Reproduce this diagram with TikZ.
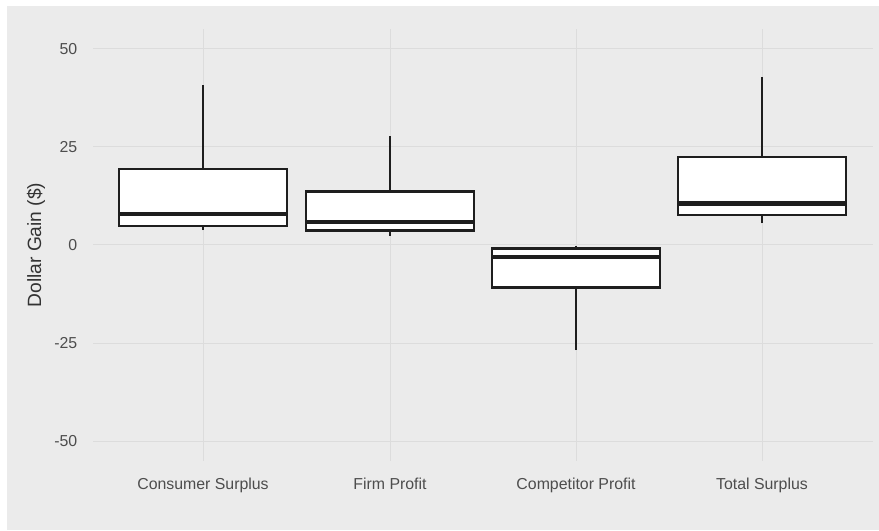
\documentclass[tikz,border=0pt]{standalone}
\usepackage{fontspec}
\setmainfont{Liberation Sans}
\usepackage{tikz}
\usetikzlibrary{positioning,calc}
\definecolor{panel}{RGB}{235, 235, 235}
\definecolor{gridc}{RGB}{220, 220, 220}
\definecolor{axtext}{RGB}{77, 77, 77}
\definecolor{boxline}{RGB}{30, 30, 30}
\tikzset{
  gridline/.style={draw=gridc, line width=0.75pt},
  boxbody/.style={draw=boxline, fill=white, line width=1.9pt},
  whisker/.style={draw=boxline, line width=1.8pt},
  medline/.style={draw=boxline, line width=3.5pt},
  ticklab/.style={anchor=east, text=axtext, font=\fontsize{11.9}{14}\selectfont},
  catlab/.style={anchor=base, text=axtext, font=\fontsize{11.9}{14}\selectfont}
}

\begin{document}
\begin{tikzpicture}[x=0.75pt,y=-0.75pt]
      \useasboundingbox (0,0) rectangle (879,531);
      \fill[panel] (7,6) rectangle (879,530);

      \begin{scope}[yshift=-183.75pt, y=2.94pt]
      % grid
      \draw[gridline] (93,50) -- (873,50);
      \draw[gridline] (93,25) -- (873,25);
      \draw[gridline] (93,0) -- (873,0);
      \draw[gridline] (93,-25) -- (873,-25);
      \draw[gridline] (93,-50) -- (873,-50);
      \draw[gridline] (203,55) -- (203,-55);
      \draw[gridline] (390,55) -- (390,-55);
      \draw[gridline] (576,55) -- (576,-55);
      \draw[gridline] (762,55) -- (762,-55);

      \node[ticklab] (t50) at (82,50) {50};
      \node[ticklab] (t25) at (82,25) {25};
      \node[ticklab] (t0) at (82,0) {0};
      \node[ticklab] (tm25) at (82,-25) {-25};
      \node[ticklab] (tm50) at (82,-50) {-50};

      \node[rotate=90, text=black!80, font=\fontsize{14.4}{17}\selectfont] (ylab) at (36,0) {Dollar Gain (\$)};

      % consumer surplus
      \draw[whisker] (203,3.8) -- (203,40.8);
      \draw[boxbody] (119,4.8) rectangle (287,19.4);
      \draw[medline] (119,7.9) -- (287,7.9);

      % firm profit
      \draw[whisker] (390,2.4) -- (390,27.8);
      \draw[boxbody] (306,3.65) rectangle (474,13.7);
      \draw[medline] (306,5.9) -- (474,5.9);

      % competitor profit
      \draw[whisker] (576,-26.8) -- (576,-0.3);
      \draw[boxbody] (492,-10.8) rectangle (660,-0.9);
      \draw[medline] (492,-3.1) -- (660,-3.1);

      % total surplus
      \draw[whisker] (762,5.5) -- (762,42.8);
      \draw[boxbody] (678,7.6) rectangle (846,22.4);
      \draw[medline] (678,10.6) -- (846,10.6);

      \node[catlab] (cs) at (203,-62.4) {Consumer Surplus};
      \node[catlab] (fp) at (390,-62.4) {Firm Profit};
      \node[catlab] (cp) at (576,-62.4) {Competitor Profit};
      \node[catlab] (ts) at (762,-62.4) {Total Surplus};
      \end{scope}

    \end{tikzpicture}
\end{document}
